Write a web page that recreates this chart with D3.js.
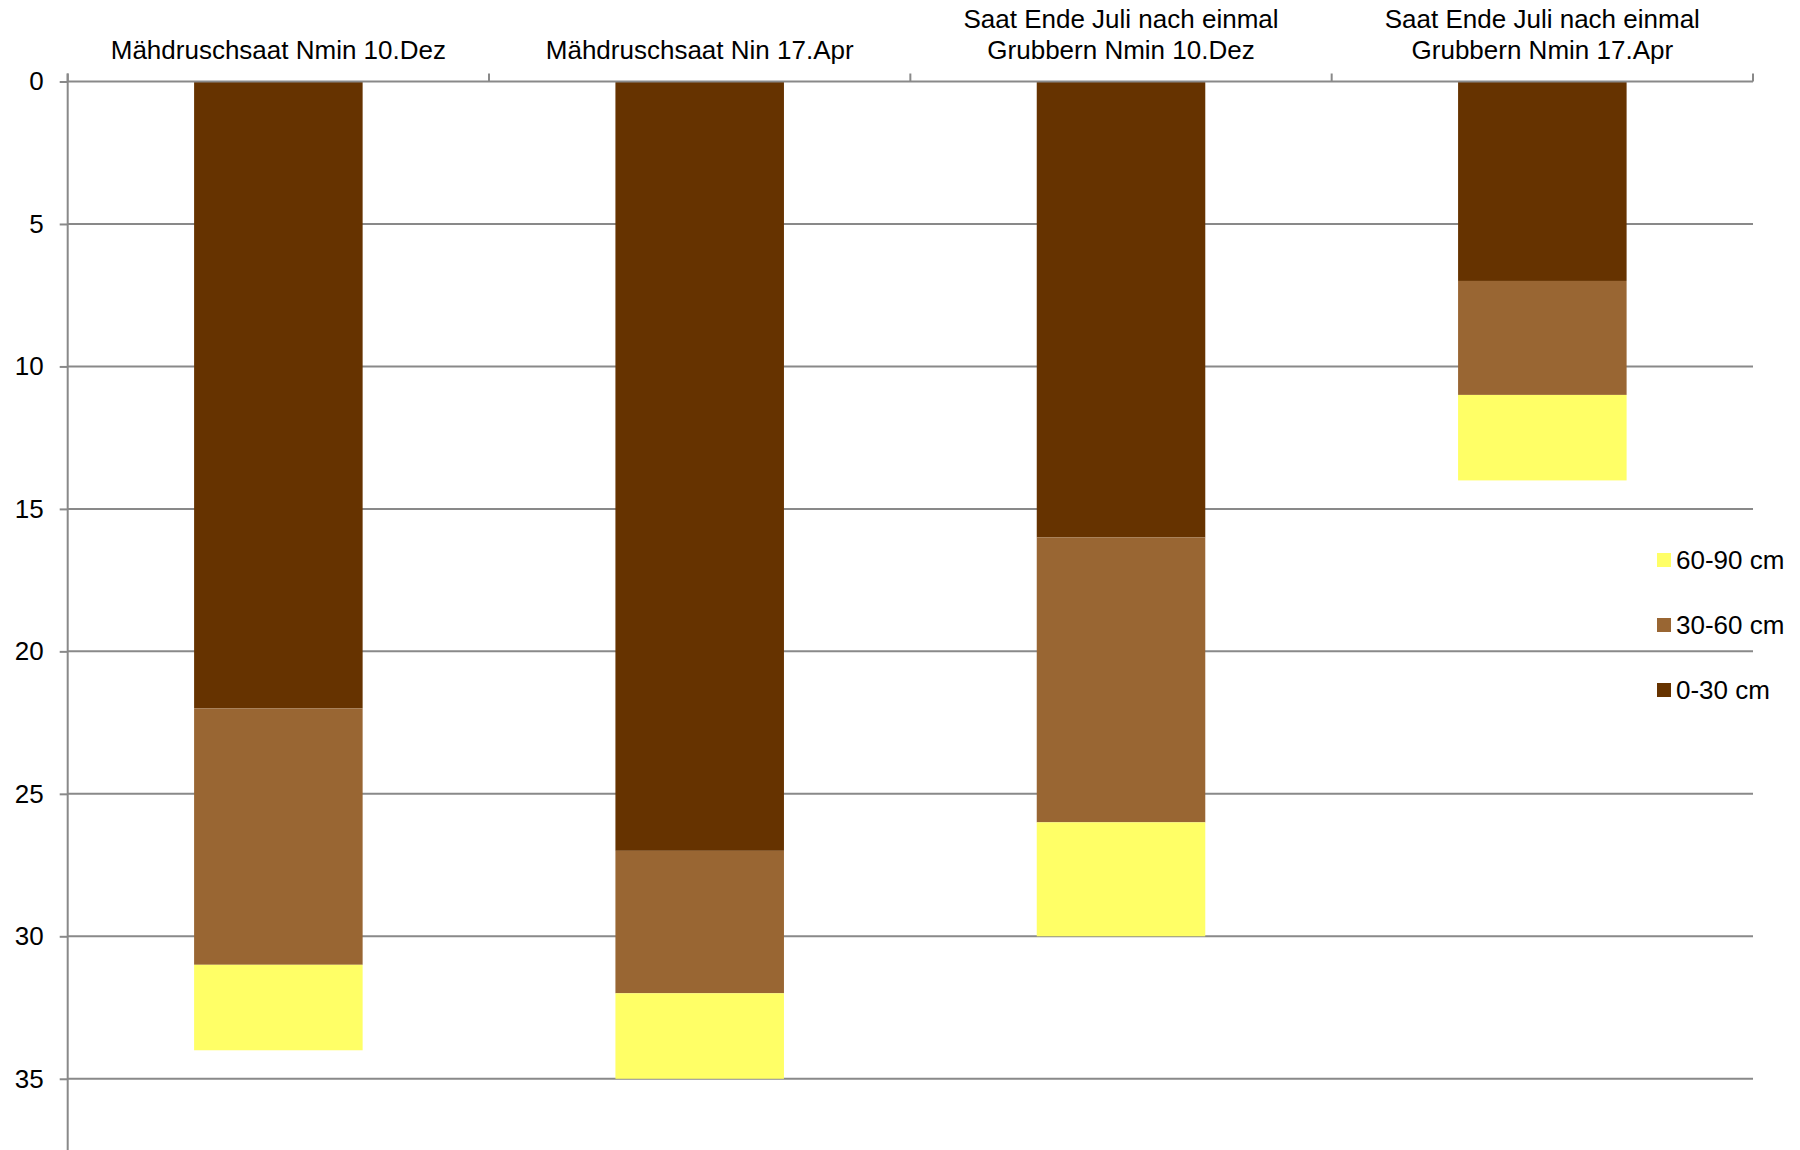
<!DOCTYPE html>
<html>
<head>
<meta charset="utf-8">
<script src="https://cdn.jsdelivr.net/npm/d3@7"></script>
<style>
  html, body { margin: 0; padding: 0; background: #fff; }
  svg { display: block; font-family: "Liberation Sans", Arial, sans-serif; }
</style>
</head>
<body>
<svg id="chart" width="1800" height="1150"></svg>
<script>
const categories = [
  ["Mähdruschsaat Nmin 10.Dez"],
  ["Mähdruschsaat Nin 17.Apr"],
  ["Saat Ende Juli nach einmal", "Grubbern Nmin 10.Dez"],
  ["Saat Ende Juli nach einmal", "Grubbern Nmin 17.Apr"]
];
const seriesNames = ["0-30 cm", "30-60 cm", "60-90 cm"];
const values030 = [22, 27, 16, 7];
const values3060 = [9, 5, 10, 4];
const values6090 = [3, 3, 4, 3];
const seriesColors = ["#663300", "#996633", "#FFFF66"];
const yTicks = [0, 5, 10, 15, 20, 25, 30, 35];

(function () {
const svg = d3.select("#chart");
const plotLeft = 67.7, plotRight = 1753, plotTop = 81.5, plotBottom = 1150;
const gridColor = "#898989";
const fs = 26;

const x = d3.scaleBand().domain(d3.range(categories.length)).range([plotLeft, plotRight])
  .paddingInner(0.6).paddingOuter(0.3);
const xb = d3.scaleLinear().domain([0, categories.length]).range([plotLeft, plotRight]);
const y = d3.scaleLinear().domain([0, 37.5]).range([plotTop, plotBottom]);

// gridlines
svg.append("g").selectAll("line").data(yTicks.filter(d => d > 0)).join("line")
  .attr("x1", plotLeft).attr("x2", plotRight)
  .attr("y1", d => y(d)).attr("y2", d => y(d))
  .attr("stroke", gridColor).attr("stroke-width", 2);

// stacked data
const rows = categories.map((c, i) => ({ i, "0-30 cm": values030[i], "30-60 cm": values3060[i], "60-90 cm": values6090[i] }));
const stack = d3.stack().keys(seriesNames)(rows);
svg.append("g").selectAll("g").data(stack).join("g")
  .attr("fill", (d, k) => seriesColors[k])
  .selectAll("rect").data(d => d).join("rect")
  .attr("x", d => x(d.data.i))
  .attr("width", x.bandwidth())
  .attr("y", d => y(d[0]))
  .attr("height", d => y(d[1]) - y(d[0]));

// y axis
const yAxis = d3.axisLeft(y).tickValues(yTicks).tickSize(8).tickPadding(16).tickFormat(d3.format("d"));
const gy = svg.append("g").attr("transform", `translate(${plotLeft},0)`).call(yAxis);
gy.select(".domain").remove();
gy.selectAll(".tick line").attr("stroke", gridColor).attr("stroke-width", 2);
gy.selectAll(".tick text").attr("font-size", fs).attr("fill", "#000")
  .attr("font-family", "Liberation Sans, Arial, sans-serif");
svg.append("line").attr("x1", plotLeft).attr("x2", plotLeft).attr("y1", plotTop - 8).attr("y2", plotBottom)
  .attr("stroke", gridColor).attr("stroke-width", 2);

// top category axis
svg.append("line").attr("x1", plotLeft).attr("x2", plotRight).attr("y1", plotTop).attr("y2", plotTop)
  .attr("stroke", gridColor).attr("stroke-width", 2);
svg.append("g").selectAll("line").data(d3.range(categories.length + 1)).join("line")
  .attr("x1", d => xb(d)).attr("x2", d => xb(d))
  .attr("y1", plotTop - 8).attr("y2", plotTop)
  .attr("stroke", gridColor).attr("stroke-width", 2);

// category labels (bottom-aligned)
const labels = svg.append("g").selectAll("text").data(categories).join("text")
  .attr("text-anchor", "middle").attr("font-size", fs).attr("fill", "#000")
  .attr("x", (d, i) => x(i) + x.bandwidth() / 2);
labels.each(function (d, i) {
  const t = d3.select(this);
  const cx = x(i) + x.bandwidth() / 2;
  d.forEach((line, k) => {
    t.append("tspan").attr("x", cx).attr("y", 58.5 - (d.length - 1 - k) * 31).text(line);
  });
});

// legend
const legendItems = [2, 1, 0];
const lg = svg.append("g").selectAll("g").data(legendItems).join("g")
  .attr("transform", (d, k) => `translate(1657,${560 + k * 65})`);
lg.append("rect").attr("x", 0).attr("y", -7).attr("width", 14).attr("height", 14)
  .attr("fill", d => seriesColors[d]);
lg.append("text").attr("x", 19).attr("y", 9).attr("font-size", fs).attr("fill", "#000")
  .text(d => seriesNames[d]);
})();
</script>
</body>
</html>
